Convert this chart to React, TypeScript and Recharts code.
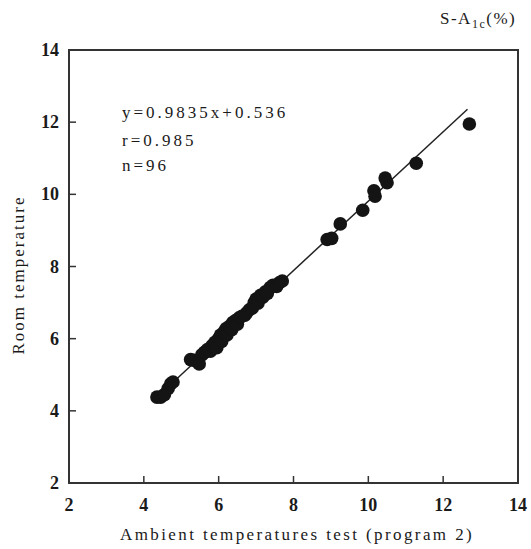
import React from 'react';
import {
  ScatterChart,
  Scatter,
  XAxis,
  YAxis,
  ReferenceArea,
} from 'recharts';

// readings (ambient vs room), many points overlap in the cluster
const ambient = [
  4.35, 4.45, 4.55, 4.65, 4.72, 4.78, 5.25, 5.35, 5.48, 5.55, 5.62, 5.7, 5.78,
  5.82, 5.9, 5.95, 6.0, 6.05, 6.08, 6.15, 6.2, 6.22, 6.3, 6.35, 6.38, 6.45, 6.5,
  6.55, 6.62, 6.7, 6.75, 6.82, 6.9, 6.95, 7.0, 7.05, 7.12, 7.18, 7.25, 7.3,
  7.38, 7.45, 7.55, 7.62, 7.7, 8.9, 9.02, 9.25, 9.85, 10.15, 10.18, 10.45, 10.5,
  11.28, 12.7,
];
const room = [
  4.38, 4.38, 4.45, 4.62, 4.75, 4.8, 5.42, 5.4, 5.3, 5.55, 5.62, 5.7, 5.65, 5.8,
  5.9, 5.75, 6.0, 6.1, 5.92, 6.2, 6.28, 6.1, 6.35, 6.25, 6.45, 6.5, 6.4, 6.58,
  6.62, 6.65, 6.72, 6.8, 6.85, 7.0, 7.1, 6.98, 7.2, 7.15, 7.3, 7.25, 7.42, 7.48,
  7.45, 7.55, 7.6, 8.75, 8.78, 9.18, 9.56, 10.1, 9.95, 10.45, 10.32, 10.86,
  11.95,
];
// ends of the drawn regression line
const lineX = [4.3, 12.65];
const lineY = [4.33, 12.36];

const xTicks = [2, 4, 6, 8, 10, 12, 14];
const yTicks = [2, 4, 6, 8, 10, 12, 14];

const points = ambient.map((x, i) => ({ x, y: room[i] }));
const fitLine = lineX.map((x, i) => ({ x, y: lineY[i] }));

const ink = '#1a1a1a';
const serif = '"Liberation Serif", "DejaVu Serif", serif';
const tickFont: React.CSSProperties = { fontFamily: serif, fontSize: 18, fontWeight: 700 };

const XTick = (props: any) => {
  const { x, y, payload } = props;
  const v = payload.value;
  return (
    <g>
      {v !== 2 && v !== 14 && (
        <line x1={x} y1={y} x2={x} y2={y - 7} stroke="#333" strokeWidth={1.5} />
      )}
      <text x={x} y={y + 28} textAnchor="middle" style={tickFont} fill={ink}>
        {v}
      </text>
    </g>
  );
};

const YTick = (props: any) => {
  const { x, y, payload } = props;
  const v = payload.value;
  return (
    <g>
      {v !== 2 && v !== 14 && (
        <line x1={x} y1={y} x2={x + 7} y2={y} stroke="#333" strokeWidth={1.5} />
      )}
      <text x={x - 10} y={y + 6} textAnchor="end" style={tickFont} fill={ink}>
        {v}
      </text>
    </g>
  );
};

const Dot = (props: any) => <circle cx={props.cx} cy={props.cy} r={6.8} fill="#141414" />;

export default function App() {
  const txt: React.CSSProperties = {
    position: 'absolute',
    fontFamily: serif,
    fontSize: 17,
    color: ink,
    letterSpacing: 1.5,
    whiteSpace: 'nowrap',
    lineHeight: 1,
  };
  const note: React.CSSProperties = { ...txt, letterSpacing: 3, left: 122 };
  // fixed box so the body margin and scrollbars play no part
  return (
    <div style={{ position: 'fixed', left: 0, top: 0, width: 531, height: 549, overflow: 'hidden', background: '#fff' }}>
      <ScatterChart width={531} height={549} margin={{ top: 50, right: 13, bottom: 0, left: 0 }}>
        <XAxis
          type="number"
          dataKey="x"
          domain={[2, 14]}
          ticks={xTicks}
          tick={<XTick />}
          tickSize={0}
          tickMargin={0}
          axisLine={false}
          tickLine={false}
          height={66}
          interval={0}
        />
        <YAxis
          type="number"
          dataKey="y"
          domain={[2, 14]}
          ticks={yTicks}
          tick={<YTick />}
          tickSize={0}
          tickMargin={0}
          axisLine={false}
          tickLine={false}
          width={69}
          interval={0}
        />
        <ReferenceArea x1={2} x2={14} y1={2} y2={14} fill="none" stroke="#333" strokeWidth={2} />
        <Scatter data={fitLine} line={{ stroke: '#222', strokeWidth: 1.5 }} shape={() => <g />} isAnimationActive={false} />
        <Scatter data={points} shape={<Dot />} isAnimationActive={false} />
      </ScatterChart>
      <div style={{ ...txt, left: 440, top: 10 }}>
        S-A<sub style={{ fontSize: 12 }}>1c</sub>(%)
      </div>
      <div style={{ ...note, top: 104 }}>y=0.9835x+0.536</div>
      <div style={{ ...note, top: 132 }}>r=0.985</div>
      <div style={{ ...note, top: 157 }}>n=96</div>
      <div style={{ ...txt, letterSpacing: 2.4, left: 120, top: 526 }}>Ambient temperatures test (program 2)</div>
      <div
        style={{
          ...txt,
          letterSpacing: 2,
          left: 18,
          top: 275,
          transform: 'translate(-50%, -50%) rotate(-90deg)',
        }}
      >
        Room temperature
      </div>
    </div>
  );
}
